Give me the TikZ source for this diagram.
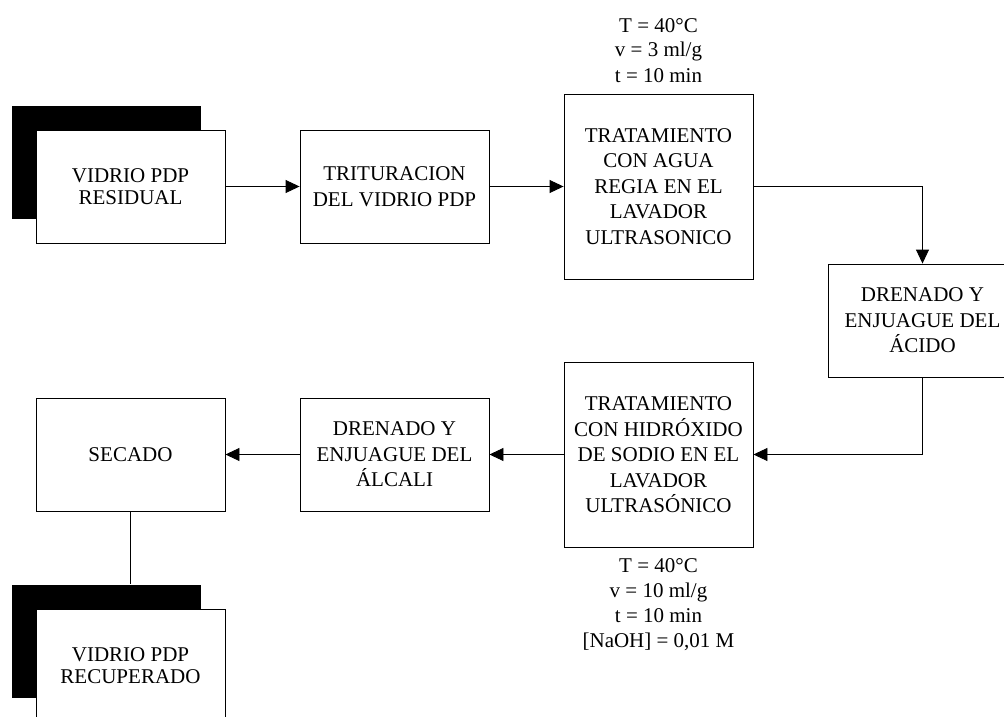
\documentclass[tikz,border=0pt]{standalone}
\usepackage{fontspec}
\setmainfont{Liberation Serif}
\usetikzlibrary{arrows.meta}
\begin{document}
\begin{tikzpicture}[x=1pt,y=-1pt,
  box/.style={draw=black,line width=0.9pt,fill=white,minimum width=189pt,
    minimum height=113pt,align=center,inner sep=0pt,
    font=\fontsize{21}{25.5}\selectfont},
  tallbox/.style={box,minimum height=185pt},
  endbox/.style={box,font=\fontsize{21}{22}\selectfont},
  shadowbox/.style={fill=black,minimum width=189pt,minimum height=113pt,inner sep=0pt},
  note/.style={align=center,inner sep=0pt,font=\fontsize{21}{25}\selectfont,anchor=base},
  flow/.style={line width=0.9pt,-{Triangle[length=14pt,width=13pt]}},
  link/.style={line width=0.9pt}]
\useasboundingbox (0,0) rectangle (1004,717);

% start and end terminals with their black offset blocks
\node[shadowbox] (resShadow) at (106.5,162.5) {};
\node[endbox] (res) at (130.5,186.5) {VIDRIO PDP\\RESIDUAL};
\node[shadowbox] (recShadow) at (106.5,641) {};
\node[endbox] (rec) at (130.5,665.5) {VIDRIO PDP\\RECUPERADO};

% process steps
\node[box] (trit) at (394.5,186.5) {TRITURACION\\DEL VIDRIO PDP};
\node[tallbox] (agua) at (658.5,186.5) {TRATAMIENTO\\CON AGUA\\REGIA EN EL\\LAVADOR\\ULTRASONICO};
\node[box] (acido) at (922.5,320.5) {DRENADO Y\\ENJUAGUE DEL\\ÁCIDO};
\node[tallbox] (naoh) at (658.5,455) {TRATAMIENTO\\CON HIDRÓXIDO\\DE SODIO EN EL\\LAVADOR\\ULTRASÓNICO};
\node[box] (alcali) at (394.5,454.5) {DRENADO Y\\ENJUAGUE DEL\\ÁLCALI};
\node[box] (secado) at (130.5,454.5) {SECADO};

% operating conditions (anchored on the baseline of the last line)
\node[note] (aguaNote) at (658.5,82) {T = 40°C\\v = 3 ml/g\\t = 10 min};
\node[note] (naohNote) at (658.5,647) {T = 40°C\\v = 10 ml/g\\t = 10 min\\{[NaOH]} = 0,01 M};

% connectors
\draw[flow] (res.east) -- (trit.west);
\draw[flow] (trit.east) -- (trit.east -| agua.west);
\draw[flow] (agua.east |- trit.east) -| (acido.north);
\draw[flow] (acido.south) |- (naoh.east |- alcali.east);
\draw[flow] (naoh.west |- alcali.west) -- (alcali.east);
\draw[flow] (alcali.west) -- (secado.east);
\draw[link] (secado.south) -- (secado.south |- recShadow.north);
\end{tikzpicture}
\end{document}
